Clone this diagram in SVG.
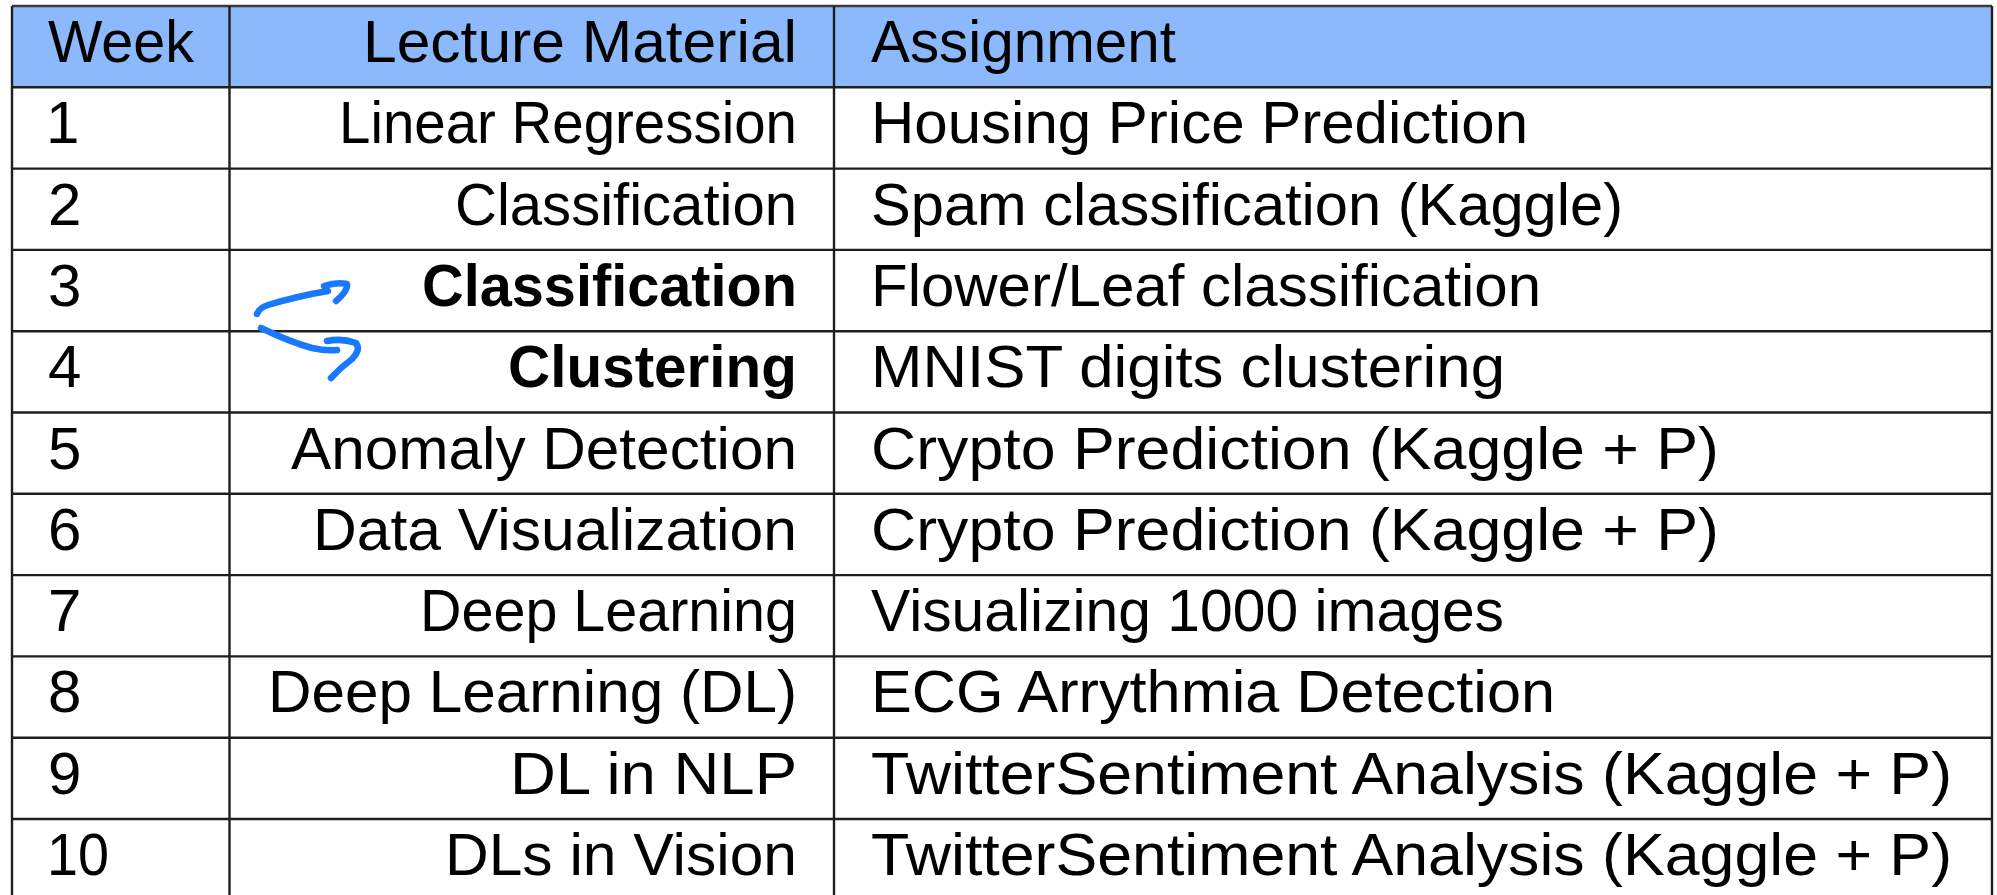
<svg xmlns="http://www.w3.org/2000/svg" width="1997" height="895" viewBox="0 0 1997 895">
  <style>
    .cell { font-family: "Liberation Sans", Arial, sans-serif; font-size: 60px; fill: #000; }
    .bold { font-weight: bold; }
    .num { text-anchor: start; }
    .lec { text-anchor: end; }
    .asg { text-anchor: start; }
    .grid { stroke: #1e1e1e; stroke-width: 2.4; fill: none; }
    .ink { stroke: #1a78ff; stroke-width: 6.5; fill: none; stroke-linecap: round; stroke-linejoin: round; }
  </style>

  <!-- white page and header band -->
  <rect x="0" y="0" width="1997" height="895" fill="#ffffff"/>
  <rect id="header-fill" x="12" y="6" width="1980" height="81.3" fill="#8cb9fc"/>

  <!-- table rules -->
  <g id="grid" class="grid">
    <line x1="12" y1="6" x2="1992" y2="6" stroke="#3a3a3a"/>
    <line x1="12" y1="6" x2="12" y2="900"/>
    <line x1="1992" y1="6" x2="1992" y2="900"/>
    <line x1="229.5" y1="6" x2="229.5" y2="900"/>
    <line x1="834" y1="6" x2="834" y2="900"/>
    <line x1="12" y1="87.3" x2="1992" y2="87.3"/>
    <line x1="12" y1="168.6" x2="1992" y2="168.6"/>
    <line x1="12" y1="249.9" x2="1992" y2="249.9"/>
    <line x1="12" y1="331.2" x2="1992" y2="331.2"/>
    <line x1="12" y1="412.5" x2="1992" y2="412.5"/>
    <line x1="12" y1="493.8" x2="1992" y2="493.8"/>
    <line x1="12" y1="575.1" x2="1992" y2="575.1"/>
    <line x1="12" y1="656.4" x2="1992" y2="656.4"/>
    <line x1="12" y1="737.7" x2="1992" y2="737.7"/>
    <line x1="12" y1="819" x2="1992" y2="819"/>
  </g>

  <g id="row-header">
    <text class="cell num" x="48" y="62" textLength="146" lengthAdjust="spacingAndGlyphs">Week</text>
    <text class="cell lec" x="797" y="62" textLength="434" lengthAdjust="spacingAndGlyphs">Lecture Material</text>
    <text class="cell asg" x="871" y="62" textLength="305" lengthAdjust="spacingAndGlyphs">Assignment</text>
  </g>

  <g id="row-1">
    <text class="cell num" x="46" y="143.3">1</text>
    <text class="cell lec" x="797" y="143.3" textLength="458" lengthAdjust="spacingAndGlyphs">Linear Regression</text>
    <text class="cell asg" x="871" y="143.3" textLength="657" lengthAdjust="spacingAndGlyphs">Housing Price Prediction</text>
  </g>

  <g id="row-2">
    <text class="cell num" x="48" y="224.6">2</text>
    <text class="cell lec" x="797" y="224.6" textLength="342" lengthAdjust="spacingAndGlyphs">Classification</text>
    <text class="cell asg" x="871" y="224.6" textLength="752" lengthAdjust="spacingAndGlyphs">Spam classification (Kaggle)</text>
  </g>

  <g id="row-3">
    <text class="cell num" x="48" y="305.9">3</text>
    <text class="cell lec bold" x="797" y="305.9" textLength="375" lengthAdjust="spacingAndGlyphs">Classification</text>
    <text class="cell asg" x="871" y="305.9" textLength="670" lengthAdjust="spacingAndGlyphs">Flower/Leaf classification</text>
  </g>

  <g id="row-4">
    <text class="cell num" x="48" y="387.2">4</text>
    <text class="cell lec bold" x="797" y="387.2" textLength="289" lengthAdjust="spacingAndGlyphs">Clustering</text>
    <text class="cell asg" x="871" y="387.2" textLength="634" lengthAdjust="spacingAndGlyphs">MNIST digits clustering</text>
  </g>

  <g id="row-5">
    <text class="cell num" x="48" y="468.5">5</text>
    <text class="cell lec" x="797" y="468.5" textLength="506" lengthAdjust="spacingAndGlyphs">Anomaly Detection</text>
    <text class="cell asg" x="871" y="468.5" textLength="848" lengthAdjust="spacingAndGlyphs">Crypto Prediction (Kaggle + P)</text>
  </g>

  <g id="row-6">
    <text class="cell num" x="48" y="549.8">6</text>
    <text class="cell lec" x="797" y="549.8" textLength="484" lengthAdjust="spacingAndGlyphs">Data Visualization</text>
    <text class="cell asg" x="871" y="549.8" textLength="848" lengthAdjust="spacingAndGlyphs">Crypto Prediction (Kaggle + P)</text>
  </g>

  <g id="row-7">
    <text class="cell num" x="48" y="631.1">7</text>
    <text class="cell lec" x="797" y="631.1" textLength="377" lengthAdjust="spacingAndGlyphs">Deep Learning</text>
    <text class="cell asg" x="871" y="631.1" textLength="633" lengthAdjust="spacingAndGlyphs">Visualizing 1000 images</text>
  </g>

  <g id="row-8">
    <text class="cell num" x="48" y="712.4">8</text>
    <text class="cell lec" x="797" y="712.4" textLength="529" lengthAdjust="spacingAndGlyphs">Deep Learning (DL)</text>
    <text class="cell asg" x="871" y="712.4" textLength="684" lengthAdjust="spacingAndGlyphs">ECG Arrythmia Detection</text>
  </g>

  <g id="row-9">
    <text class="cell num" x="48" y="793.7">9</text>
    <text class="cell lec" x="797" y="793.7" textLength="287" lengthAdjust="spacingAndGlyphs">DL in NLP</text>
    <text class="cell asg" x="871" y="793.7" textLength="1081" lengthAdjust="spacingAndGlyphs">TwitterSentiment Analysis (Kaggle + P)</text>
  </g>

  <g id="row-10">
    <text class="cell num" x="47" y="875" textLength="62" lengthAdjust="spacingAndGlyphs">10</text>
    <text class="cell lec" x="797" y="875" textLength="352" lengthAdjust="spacingAndGlyphs">DLs in Vision</text>
    <text class="cell asg" x="871" y="875" textLength="1081" lengthAdjust="spacingAndGlyphs">TwitterSentiment Analysis (Kaggle + P)</text>
  </g>

  <!-- hand-drawn swap arrows between weeks 3 and 4 -->
  <g id="connectors">
    <path class="ink" d="M257 314 Q259 308 268 305 Q298 296 328 291"/>
    <path class="ink" d="M324 286 Q336 282 347 284 Q348 291 336 301"/>
    <path class="ink" d="M261 328 Q290 342 312 348 Q326 351 337 350"/>
    <path class="ink" d="M327 341 Q342 338 356 343 Q361 350 352 359 Q340 368 331 378"/>
  </g>
</svg>
